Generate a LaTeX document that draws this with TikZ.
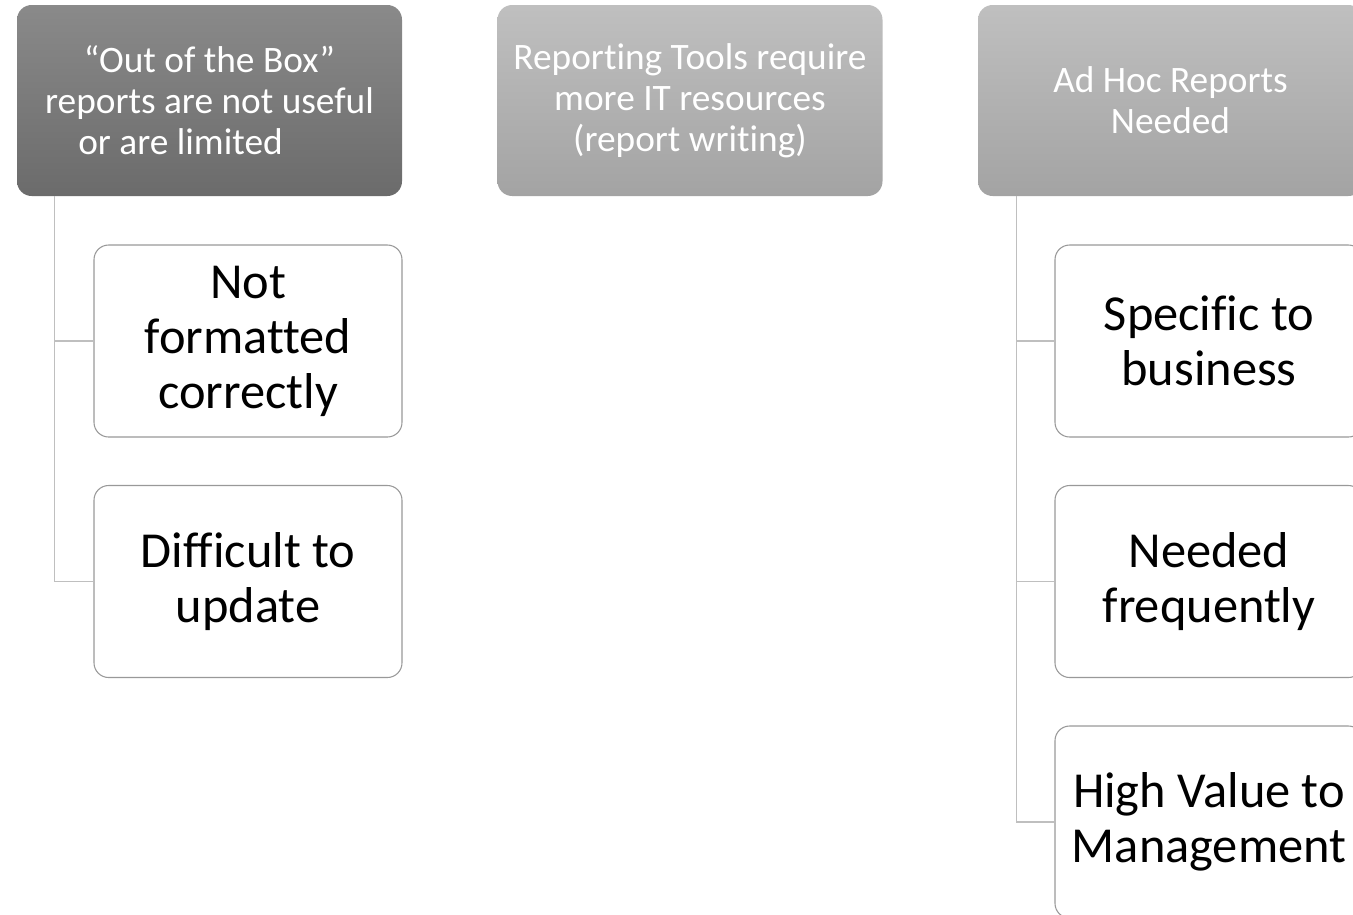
\documentclass[tikz,border=0pt]{standalone}
\usepackage{fontspec}
\setmainfont{Carlito}[Ligatures={NoCommon}]
\begin{document}
\begin{tikzpicture}[x=0.75pt,y=-0.75pt,
  topbox/.style={rounded corners=11pt, minimum width=288.75pt, minimum height=143.25pt,
    inner sep=0pt, align=center, text=white,
    font=\fontsize{28}{30.75}\selectfont},
  darkbox/.style={topbox, top color=black!46, bottom color=black!58},
  lightbox/.style={topbox, top color=black!25, bottom color=black!36},
  childbox/.style={rounded corners=11pt, draw=black!40, line width=0.8pt, fill=white,
    minimum width=231pt, minimum height=144pt, inner sep=0pt, align=center,
    font=\fontsize{37.8}{41.25}\selectfont},
  conn/.style={draw=black!25, line width=1pt}]
\useasboundingbox (0,0) rectangle (1353,914);
\clip (0,0) rectangle (1353,914);
% top boxes
\node[darkbox] (b1) at (209.5,100.5) {“Out of the Box”\\reports are not useful\\or are limited\hspace*{43.5pt}};
\node[lightbox] (b2) at (690,100.5) {Reporting Tools require\\more IT resources\\(report writing)};
\node[lightbox] (b3) at (1170.5,100.5) {Ad Hoc Reports\\Needed};
% children left
\node[childbox] (c1) at (248,341) {Not\\formatted\\correctly};
\node[childbox] (c2) at (248,581.5) {Difficult to\\update};
% children right
\node[childbox] (d1) at (1209,341) {Specific to\\business};
\node[childbox] (d2) at (1209,581.5) {Needed\\frequently};
\node[childbox] (d3) at (1209,822) {High Value to\\Management};
% connectors
\path (b1.south west) ++(28.5pt,0) coordinate (l1);
\draw[conn] (l1) |- (c1.west);
\draw[conn] (l1) |- (c2.west);
\path (b3.south west) ++(29.25pt,0) coordinate (r1);
\draw[conn] (r1) |- (d1.west);
\draw[conn] (r1) |- (d2.west);
\draw[conn] (r1) |- (d3.west);
\end{tikzpicture}
\end{document}
